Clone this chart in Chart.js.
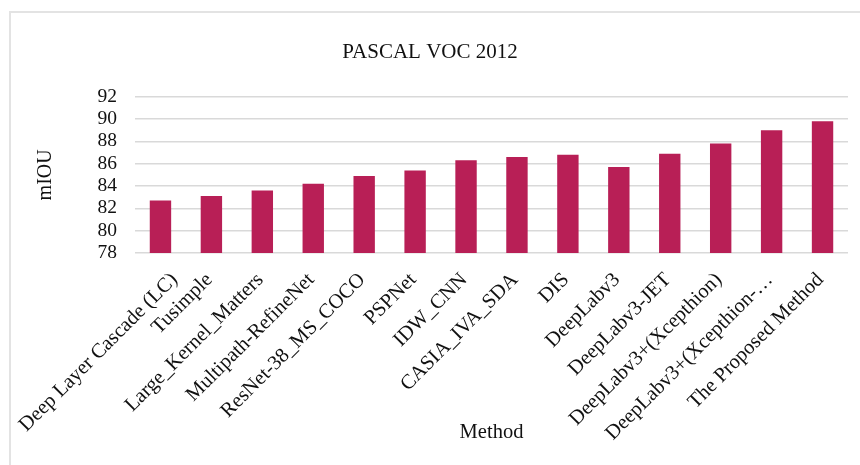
<!DOCTYPE html>
<html>
<head>
<meta charset="utf-8">
<script src="https://cdn.jsdelivr.net/npm/chart.js@4/dist/chart.umd.min.js"></script>
<style>
  html, body { margin: 0; padding: 0; background: #ffffff; }
  #wrap { position: relative; width: 860px; height: 465px; overflow: hidden; }
  #frame { position: absolute; left: 9px; top: 11px; width: 900px; height: 500px;
           border-left: 2px solid #e3e3e3; border-top: 2px solid #e3e3e3; }
  #chart { position: absolute; left: 0; top: 0; }
</style>
</head>
<body>
<div id="wrap">
  <div id="frame"></div>
  <canvas id="chart" width="860" height="465"></canvas>
</div>
<script>
// Semantic segmentation methods on PASCAL VOC 2012 and their mIOU scores
const methods = [
  'Deep Layer Cascade (LC)',
  'Tusimple',
  'Large_Kernel_Matters',
  'Multipath-RefineNet',
  'ResNet-38_MS_COCO',
  'PSPNet',
  'IDW_CNN',
  'CASIA_IVA_SDA',
  'DIS',
  'DeepLabv3',
  'DeepLabv3-JET',
  'DeepLabv3+(Xcepthion)',
  'DeepLabv3+(Xcepthion-…',
  'The Proposed Method'
];
const miou = [82.7, 83.1, 83.6, 84.2, 84.9, 85.4, 86.3, 86.6, 86.8, 85.7, 86.9, 87.8, 89.0, 89.8];
const yMin = 78;
const yMax = 92;
const yStep = 2;

const SERIF = "'Liberation Serif', 'DejaVu Serif', serif";
const TEXT = '#111111';

// The first category label is long enough to run past the left edge,
// so nudge it to the right like a spreadsheet chart would.
const nudgeFirstLabel = {
  id: 'nudgeFirstLabel',
  beforeDraw(chart) {
    const scale = chart.scales.x;
    const items = scale.getLabelItems();
    if (items.length && !items[0]._nudged) {
      items[0].options.translation[0] += 16;
      items[0]._nudged = true;
    }
  }
};

new Chart(document.getElementById('chart'), {
  type: 'bar',
  data: {
    labels: methods,
    datasets: [{
      label: 'mIOU',
      data: miou,
      backgroundColor: '#b81f56',
      borderWidth: 0,
      barPercentage: 0.42,
      categoryPercentage: 1.0
    }]
  },
  plugins: [nudgeFirstLabel],
  options: {
    responsive: false,
    animation: false,
    devicePixelRatio: 1,
    layout: { padding: { left: 12, right: 12, top: 29, bottom: 20 } },
    plugins: {
      legend: { display: false },
      tooltip: { enabled: false },
      title: {
        display: true,
        text: 'PASCAL VOC 2012',
        color: TEXT,
        font: { family: SERIF, size: 21, weight: 'normal' },
        padding: { top: 11, bottom: 31.5 }
      }
    },
    scales: {
      x: {
        grid: { display: false, drawTicks: false },
        border: { display: false },
        ticks: {
          autoSkip: false,
          minRotation: 45,
          maxRotation: 45,
          labelOffset: -2,
          padding: 15,
          color: TEXT,
          font: { family: SERIF, size: 20.5 }
        },
        title: {
          display: true,
          text: 'Method',
          color: TEXT,
          font: { family: SERIF, size: 20.5 },
          padding: { top: 0, bottom: 0 }
        },
        afterFit(scale) {
          scale.height = 192;
          scale.paddingLeft = 0;
          scale.paddingRight = 0;
        }
      },
      y: {
        min: yMin,
        max: yMax,
        grid: { color: '#d9d9d9', lineWidth: 1.5, drawTicks: false },
        border: { display: false },
        ticks: {
          stepSize: yStep,
          autoSkip: false,
          padding: 18,
          color: TEXT,
          font: { family: SERIF, size: 19.5 }
        },
        title: {
          display: true,
          text: 'mIOU',
          color: TEXT,
          font: { family: SERIF, size: 20 },
          padding: { top: 22, bottom: 0 }
        },
        afterFit(scale) {
          scale.width = 123;
          scale.paddingTop = 0;
          scale.paddingBottom = 0;
        }
      }
    }
  }
});
</script>
</body>
</html>
